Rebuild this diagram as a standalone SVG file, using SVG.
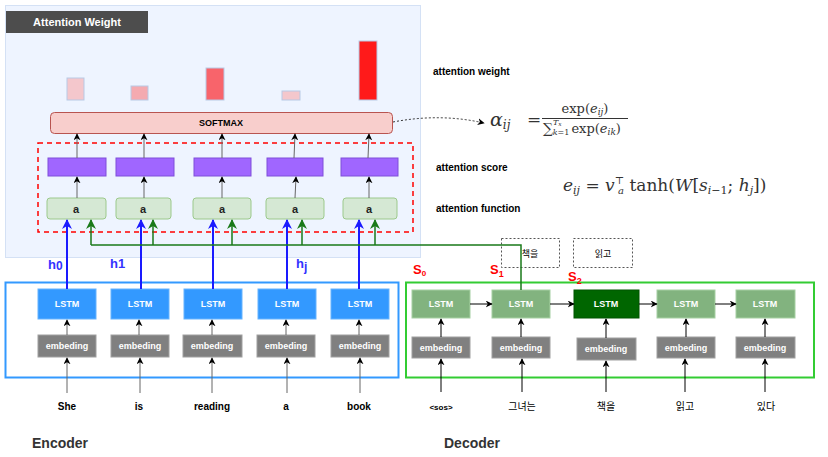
<svg xmlns="http://www.w3.org/2000/svg" width="828" height="457" viewBox="0 0 828 457">
<style>
.t{font-family:"Liberation Sans",Arial,sans-serif;font-weight:bold}
.w{fill:#fff;font-size:9px}
.lbl{font-size:10px;fill:#000}
.m{font-family:"DejaVu Serif","Liberation Serif",serif;fill:#333}
.bar{stroke:#b7c9e6;stroke-width:1}
.purple{fill:#a066ff;stroke:#7f4fd9;stroke-width:1}
.afn{fill:#d5e8d4;stroke:#9cc98c;stroke-width:1}
.elstm{fill:#3399ff;stroke:#66b3ff;stroke-width:1}
.emb{fill:#808080;stroke:#a0a0a0;stroke-width:1}
.dlstm{fill:#82b37f;stroke:#a6d0a3;stroke-width:1}
.k{stroke:#000;stroke-width:1;fill:none}
.kg{stroke:#666;stroke-width:1;fill:none}
.blue{stroke:#1a1aff;stroke-width:2;fill:none}
.green{stroke:#1a7a1a;stroke-width:1.5;fill:none}
</style>
<defs>
<marker id="ak" viewBox="0 0 10 10" refX="9" refY="5" markerWidth="7" markerHeight="7" orient="auto" markerUnits="userSpaceOnUse"><path d="M0,0 L10,5 L0,10 L3,5 z" fill="#000"/></marker>
<marker id="ab" viewBox="0 0 10 10" refX="9" refY="5" markerWidth="10" markerHeight="10" orient="auto" markerUnits="userSpaceOnUse"><path d="M0,0 L10,5 L0,10 L3,5 z" fill="#1a1aff"/></marker>
<marker id="ag" viewBox="0 0 10 10" refX="9" refY="5" markerWidth="10" markerHeight="10" orient="auto" markerUnits="userSpaceOnUse"><path d="M0,0 L10,5 L0,10 L3,5 z" fill="#1a7a1a"/></marker>
</defs>

<g id="attention-panel">
<rect x="5.5" y="5.5" width="415" height="252" fill="#eef4ff" stroke="#d4e1f5" stroke-width="1"/>
<rect x="6" y="11" width="142" height="22" fill="#4d4d4d"/>
<text class="t" x="77" y="26" font-size="11" fill="#fff" text-anchor="middle">Attention Weight</text>
</g>

<g id="weight-bars">
<rect class="bar" x="67" y="78" width="17" height="22" fill="#f4c7cc"/>
<rect class="bar" x="131" y="86" width="17" height="14" fill="#f4aab0"/>
<rect class="bar" x="206" y="68" width="18" height="32" fill="#f8646b"/>
<rect class="bar" x="282" y="91" width="18" height="9" fill="#f4c7cc"/>
<rect class="bar" x="359" y="41" width="18" height="59" fill="#ff1a1a"/>
</g>

<g id="softmax">
<rect x="50.5" y="112.5" width="342" height="21" rx="4" fill="#f8cecc" stroke="#b85450"/>
<text class="t" x="221" y="126" font-size="9" fill="#000" text-anchor="middle">SOFTMAX</text>
</g>

<g id="attention-box">
<rect x="38" y="143" width="375" height="89" fill="none" stroke="#ff0000" stroke-width="1.5" stroke-dasharray="5,4"/>
</g>

<g id="scores">
<rect class="purple" x="48" y="158" width="58" height="18"/>
<rect class="purple" x="116" y="158" width="58" height="18"/>
<rect class="purple" x="194" y="158" width="57" height="18"/>
<rect class="purple" x="267" y="158" width="56" height="18"/>
<rect class="purple" x="341" y="158" width="57" height="18"/>
</g>

<g id="attn-functions">
<rect class="afn" x="47" y="198" width="59" height="21" rx="3"/>
<rect class="afn" x="116" y="198" width="55" height="21" rx="3"/>
<rect class="afn" x="193" y="198" width="58" height="21" rx="3"/>
<rect class="afn" x="266" y="198" width="58" height="21" rx="3"/>
<rect class="afn" x="343" y="198" width="54" height="21" rx="3"/>
<g class="t" font-size="11" fill="#222" text-anchor="middle">
<text x="76" y="213">a</text>
<text x="143" y="213">a</text>
<text x="222" y="213">a</text>
<text x="295" y="213">a</text>
<text x="369" y="213">a</text>
</g>
</g>

<g id="labels-right" class="t" font-size="10" fill="#000">
<text x="433" y="75">attention weight</text>
<text x="436" y="171">attention score</text>
<text x="436" y="212">attention function</text>
</g>

<g id="formula-alpha" class="m">
<text x="490" y="126" font-size="19" font-style="italic">α<tspan font-size="12" dy="3">ij</tspan></text>
<text x="527" y="125" font-size="17">=</text>
<text x="585" y="113" font-size="13" text-anchor="middle">exp(<tspan font-style="italic">e</tspan><tspan font-style="italic" font-size="9" dy="2">ij</tspan><tspan dy="-2">)</tspan></text>
<line x1="542" y1="118.5" x2="628" y2="118.5" stroke="#333" stroke-width="1"/>
<text x="543" y="133" font-size="14">∑<tspan font-size="8" font-style="italic" dy="-8">T</tspan><tspan font-size="6" font-style="italic" dy="1">x</tspan><tspan font-size="8" font-style="italic" dx="-9" dy="9">k</tspan><tspan font-size="8">=1</tspan><tspan font-size="13" dx="2" dy="-2">exp(</tspan><tspan font-size="13" font-style="italic">e</tspan><tspan font-style="italic" font-size="9" dy="2">ik</tspan><tspan font-size="13" dy="-2">)</tspan></text>
</g>

<g id="formula-e" class="m">
<text x="563" y="191" font-size="17"><tspan font-style="italic">e</tspan><tspan font-style="italic" font-size="11" dy="3">ij</tspan><tspan dy="-3"> = </tspan><tspan font-style="italic">v</tspan><tspan font-size="10" dy="-7">⊤</tspan><tspan font-style="italic" font-size="10" dx="-6" dy="10">a</tspan><tspan dy="-3"> tanh(</tspan><tspan font-style="italic">W</tspan><tspan>[</tspan><tspan font-style="italic">s</tspan><tspan font-style="italic" font-size="11" dy="3">i</tspan><tspan font-size="11">−1</tspan><tspan dy="-3">; </tspan><tspan font-style="italic">h</tspan><tspan font-style="italic" font-size="11" dy="3">j</tspan><tspan dy="-3">])</tspan></text>
</g>

<g id="encoder">
<rect x="5.5" y="282.5" width="393" height="95" fill="none" stroke="#3399ff" stroke-width="2"/>
<rect class="elstm" x="38" y="289" width="58" height="30"/>
<rect class="elstm" x="111" y="289" width="58" height="30"/>
<rect class="elstm" x="184" y="289" width="58" height="30"/>
<rect class="elstm" x="258" y="289" width="58" height="30"/>
<rect class="elstm" x="331" y="289" width="58" height="30"/>
<g class="t w" text-anchor="middle">
<text x="67" y="307">LSTM</text>
<text x="140" y="307">LSTM</text>
<text x="213" y="307">LSTM</text>
<text x="287" y="307">LSTM</text>
<text x="360" y="307">LSTM</text>
</g>
<rect class="emb" x="38" y="335" width="58" height="22"/>
<rect class="emb" x="111" y="335" width="58" height="22"/>
<rect class="emb" x="183" y="335" width="59" height="22"/>
<rect class="emb" x="257" y="335" width="58" height="22"/>
<rect class="emb" x="331" y="335" width="58" height="22"/>
<g class="t w" text-anchor="middle">
<text x="67" y="349">embeding</text>
<text x="140" y="349">embeding</text>
<text x="212" y="349">embeding</text>
<text x="286" y="349">embeding</text>
<text x="360" y="349">embeding</text>
</g>
<g class="t lbl" text-anchor="middle" font-size="8">
<text x="67" y="410">She</text>
<text x="139" y="410">is</text>
<text x="212" y="410">reading</text>
<text x="286" y="410">a</text>
<text x="359" y="410">book</text>
</g>
<text class="t" x="32" y="448" font-size="14" fill="#333">Encoder</text>
<g class="t" fill="#3333ff" font-size="13">
<text x="48" y="269">h<tspan font-size="12" dy="1">0</tspan></text>
<text x="110" y="268">h1</text>
<text x="296" y="268">h<tspan font-size="12" dy="3">j</tspan></text>
</g>
</g>

<g id="decoder">
<rect x="406" y="282.5" width="408" height="95" fill="none" stroke="#33cc33" stroke-width="2"/>
<rect class="dlstm" x="412" y="290" width="58" height="28"/>
<rect class="dlstm" x="492" y="290" width="58" height="28"/>
<rect x="574" y="290" width="65" height="28" fill="#006600" stroke="#005500"/>
<rect class="dlstm" x="657" y="290" width="58" height="28"/>
<rect class="dlstm" x="736" y="290" width="59" height="28"/>
<g class="t w" text-anchor="middle">
<text x="441" y="307">LSTM</text>
<text x="521" y="307">LSTM</text>
<text x="606" y="307">LSTM</text>
<text x="686" y="307">LSTM</text>
<text x="765" y="307">LSTM</text>
</g>
<rect class="emb" x="412" y="337" width="58" height="21"/>
<rect class="emb" x="492" y="337" width="58" height="21"/>
<rect class="emb" x="577" y="338" width="59" height="22"/>
<rect class="emb" x="657" y="337" width="58" height="21"/>
<rect class="emb" x="736" y="337" width="59" height="21"/>
<g class="t w" text-anchor="middle">
<text x="441" y="351">embeding</text>
<text x="521" y="351">embeding</text>
<text x="606" y="352">embeding</text>
<text x="686" y="351">embeding</text>
<text x="765" y="351">embeding</text>
</g>
<g class="t lbl" text-anchor="middle" font-size="9">
<text x="441" y="410" font-size="8">&lt;sos&gt;</text>
<text x="522" y="410" font-family="'Noto Sans CJK KR',sans-serif" font-weight="normal">그녀는</text>
<text x="606" y="410" font-family="'Noto Sans CJK KR',sans-serif" font-weight="normal">책을</text>
<text x="685" y="410" font-family="'Noto Sans CJK KR',sans-serif" font-weight="normal">읽고</text>
<text x="766" y="410" font-family="'Noto Sans CJK KR',sans-serif" font-weight="normal">있다</text>
</g>
<text class="t" x="444" y="448" font-size="14" fill="#333">Decoder</text>
<g class="t" fill="#ff0000" font-size="13">
<text x="413" y="274">S<tspan font-size="8" dy="2">0</tspan></text>
<text x="490" y="274">S<tspan font-size="9" dy="3">1</tspan></text>
<text x="568" y="281">S<tspan font-size="9" dy="3">2</tspan></text>
</g>
</g>

<g id="outputs">
<rect x="501.5" y="238.5" width="58" height="29" fill="none" stroke="#555" stroke-dasharray="2,2"/>
<rect x="573.5" y="238.5" width="59" height="29" fill="none" stroke="#555" stroke-dasharray="2,2"/>
<text x="530" y="257" font-size="9" text-anchor="middle" font-family="'Noto Sans CJK KR',sans-serif" fill="#000">책을</text>
<text x="603" y="257" font-size="9" text-anchor="middle" font-family="'Noto Sans CJK KR',sans-serif" fill="#000">읽고</text>
</g>

<g id="connectors">
<g class="kg" marker-end="url(#ak)">
<line x1="77" y1="158" x2="77" y2="134"/>
<line x1="144" y1="158" x2="144" y2="134"/>
<line x1="222" y1="158" x2="222" y2="134"/>
<line x1="294" y1="158" x2="295" y2="134"/>
<line x1="368" y1="158" x2="369" y2="134"/>
<line x1="77" y1="198" x2="77" y2="177"/>
<line x1="144" y1="198" x2="144" y2="177"/>
<line x1="222" y1="198" x2="222" y2="177"/>
<line x1="295" y1="198" x2="296" y2="177"/>
<line x1="369" y1="198" x2="369" y2="177"/>
<line x1="67" y1="335" x2="67" y2="320"/>
<line x1="139" y1="335" x2="139" y2="320"/>
<line x1="212" y1="335" x2="212" y2="320"/>
<line x1="286" y1="335" x2="286" y2="320"/>
<line x1="359" y1="335" x2="359" y2="320"/>
<line x1="67" y1="393" x2="67" y2="358"/>
<line x1="140" y1="393" x2="140" y2="358"/>
<line x1="212" y1="393" x2="212" y2="358"/>
<line x1="287" y1="393" x2="287" y2="358"/>
<line x1="360" y1="393" x2="360" y2="358"/>
</g>
<g class="k" marker-end="url(#ak)">
<line x1="441" y1="337" x2="441" y2="319"/>
<line x1="521" y1="337" x2="521" y2="319"/>
<line x1="606" y1="338" x2="606" y2="319"/>
<line x1="686" y1="337" x2="686" y2="319"/>
<line x1="765" y1="337" x2="765" y2="319"/>
<line x1="441" y1="392" x2="441" y2="359"/>
<line x1="522" y1="392" x2="522" y2="359"/>
<line x1="606" y1="392" x2="606" y2="361"/>
<line x1="685" y1="392" x2="685" y2="359"/>
<line x1="765" y1="392" x2="765" y2="359"/>
<line x1="470" y1="304" x2="492" y2="304"/>
<line x1="550" y1="304" x2="574" y2="304"/>
<line x1="639" y1="304" x2="657" y2="304"/>
<line x1="715" y1="304" x2="736" y2="304"/>
</g>
<path d="M393,122 Q440,113 484,123" fill="none" stroke="#333" stroke-width="1" stroke-dasharray="2,2" marker-end="url(#ak)"/>
<g class="blue" marker-end="url(#ab)">
<line x1="67" y1="289" x2="67" y2="220"/>
<line x1="141" y1="289" x2="141" y2="220"/>
<line x1="213" y1="289" x2="213" y2="220"/>
<line x1="287" y1="289" x2="287" y2="220"/>
<line x1="359" y1="289" x2="359" y2="220"/>
</g>
<path class="green" d="M521,290 L521,245 L91,245"/>
<g class="green" marker-end="url(#ag)">
<line x1="91" y1="245" x2="91" y2="220"/>
<line x1="153" y1="245" x2="153" y2="220"/>
<line x1="232" y1="245" x2="232" y2="220"/>
<line x1="302" y1="245" x2="302" y2="220"/>
<line x1="375" y1="245" x2="375" y2="220"/>
</g>
</g>
</svg>
